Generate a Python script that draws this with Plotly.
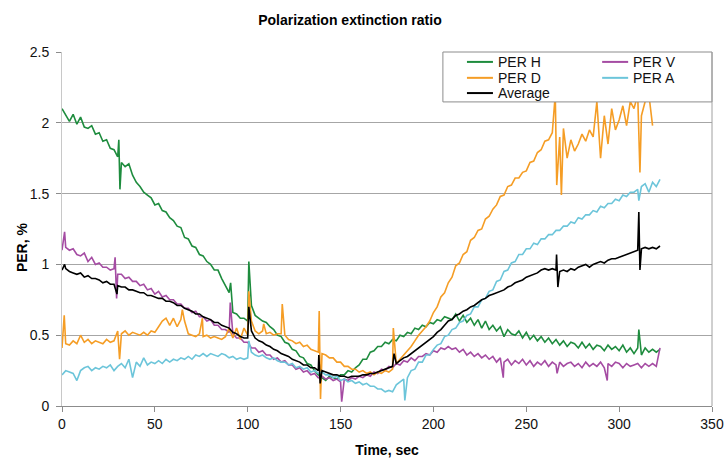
import plotly.graph_objects as go

TIME_SEC = list(range(0, 324, 2))

PER_H = [
    2.10, 2.05, 2.01, 2.06, 1.99, 2.04, 1.97, 1.96, 1.98, 1.92,
    1.93, 1.87, 1.88, 1.82, 1.81, 1.76, 1.72, 1.69, 1.71, 1.63,
    1.58, 1.55, 1.51, 1.49, 1.47, 1.42, 1.43, 1.38, 1.37, 1.33,
    1.31, 1.27, 1.26, 1.19, 1.18, 1.13, 1.12, 1.07, 1.06, 1.02,
    1.00, 0.96, 0.96, 0.90, 0.85, 0.80, 0.66, 0.65, 0.62, 0.62,
    0.60, 0.71, 0.64, 0.62, 0.60, 0.59, 0.56, 0.54, 0.50, 0.49,
    0.45, 0.44, 0.40, 0.39, 0.35, 0.34, 0.30, 0.29, 0.25, 0.22,
    0.20, 0.18, 0.21, 0.20, 0.19, 0.22, 0.22, 0.25, 0.24, 0.27,
    0.29, 0.33, 0.33, 0.38, 0.39, 0.42, 0.42, 0.45, 0.44, 0.47,
    0.46, 0.50, 0.49, 0.52, 0.51, 0.55, 0.54, 0.57, 0.56, 0.59,
    0.58, 0.61, 0.60, 0.63, 0.62, 0.61, 0.65, 0.60, 0.64, 0.59,
    0.62, 0.57, 0.61, 0.55, 0.60, 0.54, 0.57, 0.53, 0.56, 0.49,
    0.54, 0.51, 0.50, 0.53, 0.48, 0.52, 0.47, 0.50, 0.46, 0.49,
    0.45, 0.48, 0.44, 0.47, 0.43, 0.46, 0.42, 0.45, 0.44, 0.41,
    0.45, 0.41, 0.44, 0.40, 0.43, 0.42, 0.39, 0.43, 0.40, 0.42,
    0.39, 0.43, 0.38, 0.41, 0.37, 0.41, 0.36, 0.41, 0.38, 0.40,
    0.38, 0.40,
]
PER_H_SPIKE_T = [30.6, 31.2, 90.8, 100.6, 310.6]
PER_H_SPIKE_V = [1.88, 1.53, 0.87, 1.02, 0.54]

PER_V = [
    1.10, 1.12, 1.10, 1.11, 1.07, 1.06, 1.08, 1.02, 1.05, 1.00,
    1.01, 0.98, 0.98, 0.96, 0.97, 0.93, 0.93, 0.90, 0.91, 0.88,
    0.88, 0.85, 0.86, 0.82, 0.83, 0.79, 0.81, 0.77, 0.78, 0.75,
    0.75, 0.72, 0.72, 0.69, 0.69, 0.66, 0.67, 0.63, 0.63, 0.60,
    0.61, 0.57, 0.57, 0.54, 0.54, 0.52, 0.51, 0.48, 0.48, 0.45,
    0.45, 0.41, 0.41, 0.38, 0.39, 0.36, 0.36, 0.33, 0.34, 0.31,
    0.32, 0.29, 0.29, 0.26, 0.27, 0.24, 0.25, 0.22, 0.23, 0.20,
    0.21, 0.19, 0.20, 0.18, 0.19, 0.17, 0.19, 0.18, 0.20, 0.19,
    0.21, 0.20, 0.22, 0.21, 0.24, 0.23, 0.26, 0.25, 0.28, 0.27,
    0.30, 0.29, 0.32, 0.31, 0.34, 0.32, 0.35, 0.35, 0.37, 0.36,
    0.39, 0.38, 0.41, 0.40, 0.42, 0.40, 0.41, 0.38, 0.40, 0.36,
    0.38, 0.35, 0.37, 0.34, 0.36, 0.33, 0.35, 0.31, 0.34, 0.31,
    0.33, 0.29, 0.32, 0.30, 0.33, 0.29, 0.32, 0.28, 0.31, 0.29,
    0.32, 0.28, 0.31, 0.29, 0.31, 0.28, 0.30, 0.31, 0.28, 0.30,
    0.27, 0.31, 0.28, 0.30, 0.28, 0.31, 0.27, 0.30, 0.28, 0.31,
    0.30, 0.27, 0.30, 0.28, 0.29, 0.30, 0.27, 0.30, 0.28, 0.30,
    0.28, 0.41,
]
PER_V_SPIKE_T = [1.4, 28.6, 29.4, 90.6, 150.6, 237.6, 266.6, 293.6]
PER_V_SPIKE_V = [1.23, 1.05, 0.76, 0.73, 0.03, 0.20, 0.23, 0.18]

PER_D = [
    0.41, 0.44, 0.43, 0.46, 0.44, 0.50, 0.45, 0.47, 0.44, 0.46,
    0.45, 0.44, 0.47, 0.45, 0.46, 0.53, 0.51, 0.53, 0.50, 0.52,
    0.51, 0.50, 0.52, 0.50, 0.53, 0.52, 0.56, 0.60, 0.62, 0.57,
    0.62, 0.56, 0.61, 0.60, 0.51, 0.50, 0.49, 0.51, 0.49, 0.50,
    0.48, 0.49, 0.48, 0.47, 0.49, 0.55, 0.48, 0.55, 0.47, 0.55,
    0.50, 0.60, 0.53, 0.51, 0.53, 0.51, 0.52, 0.50, 0.51, 0.51,
    0.50, 0.47, 0.46, 0.44, 0.45, 0.42, 0.43, 0.40, 0.39, 0.38,
    0.37, 0.36, 0.34, 0.34, 0.31, 0.31, 0.28, 0.28, 0.26, 0.26,
    0.24, 0.25, 0.23, 0.24, 0.22, 0.24, 0.23, 0.25, 0.24, 0.26,
    0.30, 0.33, 0.36, 0.39, 0.42, 0.46, 0.50, 0.53, 0.56, 0.60,
    0.66, 0.70, 0.77, 0.80, 0.87, 0.91, 0.99, 1.01, 1.07, 1.09,
    1.17, 1.19, 1.24, 1.25, 1.32, 1.34, 1.39, 1.42, 1.48, 1.49,
    1.55, 1.56, 1.61, 1.61, 1.65, 1.66, 1.72, 1.73, 1.79, 1.81,
    1.87, 1.88, 1.93, 1.95, 1.90, 1.96, 1.75, 1.88, 1.80, 1.85,
    1.92, 1.87, 1.95, 1.90, 2.15, 1.75, 2.05, 1.85, 2.10, 1.95,
    2.02, 2.12, 1.98, 2.15, 2.10, 2.20, 2.05, 2.15, 2.20, 1.98,
    None, None,
]
PER_D_SPIKE_T = [1.2, 31.0, 64.8, 75.6, 100.6, 108.6, 118.6, 138.5, 139.2,
                 178.4, 265.6, 266.4, 268.9, 311.2]
PER_D_SPIKE_V = [0.64, 0.33, 0.68, 0.62, 0.81, 0.58, 0.72, 0.67, 0.05,
                 0.55, 2.20, 1.56, 1.49, 1.65]

PER_A = [
    0.22, 0.25, 0.24, 0.23, 0.18, 0.25, 0.27, 0.28, 0.25, 0.27,
    0.26, 0.28, 0.27, 0.29, 0.25, 0.28, 0.30, 0.27, 0.33, 0.20,
    0.31, 0.28, 0.34, 0.29, 0.31, 0.30, 0.32, 0.30, 0.33, 0.31,
    0.33, 0.32, 0.34, 0.33, 0.35, 0.33, 0.36, 0.35, 0.37, 0.35,
    0.37, 0.36, 0.35, 0.37, 0.36, 0.34, 0.35, 0.33, 0.34, 0.33,
    0.34, 0.38, 0.36, 0.35, 0.36, 0.34, 0.33, 0.34, 0.32, 0.31,
    0.31, 0.29, 0.30, 0.27, 0.28, 0.26, 0.27, 0.24, 0.25, 0.23,
    0.24, 0.22, 0.22, 0.20, 0.21, 0.18, 0.19, 0.17, 0.18, 0.16,
    0.17, 0.15, 0.16, 0.14, 0.14, 0.12, 0.12, 0.10, 0.11, 0.10,
    0.15, 0.17, 0.19, 0.20, 0.25, 0.26, 0.31, 0.31, 0.36, 0.36,
    0.40, 0.43, 0.44, 0.49, 0.50, 0.54, 0.55, 0.59, 0.60, 0.64,
    0.65, 0.70, 0.70, 0.75, 0.76, 0.81, 0.82, 0.88, 0.89, 0.95,
    0.96, 1.01, 1.02, 1.07, 1.07, 1.11, 1.11, 1.15, 1.14, 1.18,
    1.18, 1.21, 1.21, 1.24, 1.24, 1.27, 1.27, 1.30, 1.29, 1.33,
    1.32, 1.35, 1.35, 1.38, 1.37, 1.41, 1.40, 1.43, 1.43, 1.46,
    1.45, 1.49, 1.48, 1.51, 1.51, 1.53, 1.55, 1.57, 1.51, 1.58,
    1.55, 1.60,
]
PER_A_SPIKE_T = [100.6, 184.6, 310.6]
PER_A_SPIKE_V = [0.46, 0.04, 1.45]

AVERAGE = [
    0.96, 0.97, 0.95, 0.94, 0.93, 0.94, 0.91, 0.92, 0.90, 0.90,
    0.89, 0.87, 0.88, 0.86, 0.86, 0.85, 0.84, 0.84, 0.82, 0.82,
    0.81, 0.80, 0.80, 0.78, 0.78, 0.77, 0.76, 0.76, 0.74, 0.74,
    0.73, 0.71, 0.71, 0.69, 0.68, 0.67, 0.65, 0.65, 0.63, 0.62,
    0.61, 0.59, 0.59, 0.57, 0.56, 0.55, 0.52, 0.51, 0.49, 0.48,
    0.48, 0.53, 0.48, 0.46, 0.45, 0.43, 0.42, 0.40, 0.39, 0.37,
    0.36, 0.35, 0.33, 0.32, 0.31, 0.29, 0.29, 0.27, 0.27, 0.25,
    0.25, 0.24, 0.23, 0.22, 0.22, 0.21, 0.21, 0.20, 0.21, 0.21,
    0.21, 0.22, 0.22, 0.23, 0.23, 0.24, 0.25, 0.26, 0.27, 0.28,
    0.30, 0.32, 0.34, 0.35, 0.37, 0.39, 0.41, 0.43, 0.45, 0.47,
    0.49, 0.52, 0.54, 0.57, 0.60, 0.61, 0.64, 0.65, 0.67, 0.68,
    0.70, 0.71, 0.73, 0.75, 0.76, 0.78, 0.79, 0.80, 0.81, 0.82,
    0.84, 0.85, 0.87, 0.88, 0.89, 0.91, 0.92, 0.93, 0.94, 0.96,
    0.97, 0.96, 0.97, 0.96, 0.95, 0.96, 0.95, 0.97, 0.96, 0.98,
    0.99, 1.00, 0.98, 1.00, 1.01, 1.02, 1.01, 1.03, 1.04, 1.04,
    1.05, 1.06, 1.07, 1.08, 1.09, 1.10, 1.11, 1.12, 1.11, 1.12,
    1.11, 1.13,
]
AVERAGE_SPIKE_T = [1.4, 29.6, 100.6, 138.3, 139.0, 178.8, 266.3, 267.0, 310.6, 311.2]
AVERAGE_SPIKE_V = [1.00, 0.79, 0.70, 0.36, 0.16, 0.37, 1.07, 0.84, 1.37, 0.96]

X_TICKS = [0, 50, 100, 150, 200, 250, 300, 350]
Y_TICKS = [0, 0.5, 1, 1.5, 2, 2.5]
Y_TICK_TEXT = ["0", "0.5", "1", "1.5", "2", "2.5"]

FONT = "Liberation Sans, Arial, sans-serif"


def merge(base, spike_t, spike_v):
    pts = sorted(list(zip(TIME_SEC, base)) + list(zip(spike_t, spike_v)),
                 key=lambda p: p[0])
    return [p[0] for p in pts], [p[1] for p in pts]


series = [
    ("PER H", PER_H, PER_H_SPIKE_T, PER_H_SPIKE_V, "#1e8c3e"),
    ("PER V", PER_V, PER_V_SPIKE_T, PER_V_SPIKE_V, "#a54ca3"),
    ("PER D", PER_D, PER_D_SPIKE_T, PER_D_SPIKE_V, "#f59d25"),
    ("PER A", PER_A, PER_A_SPIKE_T, PER_A_SPIKE_V, "#6cc5da"),
    ("Average", AVERAGE, AVERAGE_SPIKE_T, AVERAGE_SPIKE_V, "#000000"),
]

fig = go.Figure()
for name, base, st, sv, color in series:
    xs, ys = merge(base, st, sv)
    fig.add_trace(go.Scatter(
        x=xs, y=ys, name=name, mode="lines",
        line=dict(color=color, width=1.6), showlegend=False,
    ))

# legend box (white, covers lines behind it)
fig.add_shape(type="rect", xref="paper", yref="paper",
              x0=0.586, x1=1.0, y0=0.859, y1=1.0,
              fillcolor="white", line=dict(color="#8c8c8c", width=1),
              layer="above")
# right border of the plot area
fig.add_shape(type="line", xref="paper", yref="paper",
              x0=1, x1=1, y0=0, y1=1,
              line=dict(color="#a0a0a0", width=1), layer="above")

LEG_COLS = {0: (0.623, 0.663, 0.668), 1: (0.831, 0.871, 0.875)}
LEG_ROWS = [0.972, 0.927, 0.884]
legend_items = [
    ("PER H", "#1e8c3e", 0, 0),
    ("PER V", "#a54ca3", 1, 0),
    ("PER D", "#f59d25", 0, 1),
    ("PER A", "#6cc5da", 1, 1),
    ("Average", "#000000", 0, 2),
]
for label, color, col, row in legend_items:
    x0, x1, xt = LEG_COLS[col]
    yy = LEG_ROWS[row]
    fig.add_shape(type="line", xref="paper", yref="paper",
                  x0=x0, x1=x1, y0=yy, y1=yy,
                  line=dict(color=color, width=2), layer="above")
    fig.add_annotation(text=label, xref="paper", yref="paper",
                       x=xt, y=yy, xanchor="left", yanchor="middle",
                       showarrow=False,
                       font=dict(family=FONT, size=14, color="#111111"))

fig.add_annotation(text="<b>PER, %</b>", xref="paper", yref="paper",
                   x=-0.0615, y=0.449, xanchor="center", yanchor="middle",
                   textangle=-90, showarrow=False,
                   font=dict(family=FONT, size=14, color="#000000"))

fig.update_layout(
    width=726, height=464,
    margin=dict(l=62, r=14, t=52, b=58),
    paper_bgcolor="white", plot_bgcolor="white",
    font=dict(family=FONT, size=14, color="#111111"),
    title=dict(text="<b>Polarization extinction ratio</b>",
               x=0.482, xanchor="center", y=0.957, yanchor="middle",
               font=dict(family=FONT, size=14, color="#000000")),
    showlegend=False,
)

fig.update_xaxes(
    range=[0, 350], tickvals=X_TICKS, ticks="outside", ticklen=5,
    tickcolor="#8c8c8c", showline=True, linecolor="#8c8c8c", linewidth=1,
    showgrid=False, zeroline=False, automargin=False,
    tickfont=dict(family=FONT, size=14, color="#111111"),
    title=dict(text="<b>Time, sec</b>", standoff=14,
               font=dict(family=FONT, size=14, color="#000000")),
)
fig.update_yaxes(
    range=[0, 2.5], tickvals=Y_TICKS, ticktext=Y_TICK_TEXT,
    ticks="outside", ticklen=5, tickcolor="#8c8c8c", ticklabelstandoff=4,
    showline=True, linecolor="#c8c8c8", linewidth=1, automargin=False,
    showgrid=True, gridcolor="#a6a6a6", gridwidth=1, zeroline=False,
    tickfont=dict(family=FONT, size=14, color="#111111"),
)

fig.write_html("out.html",
               config={"displayModeBar": False},
               post_script="document.body.style.margin='0px';"
                           "document.body.style.overflow='hidden';")
